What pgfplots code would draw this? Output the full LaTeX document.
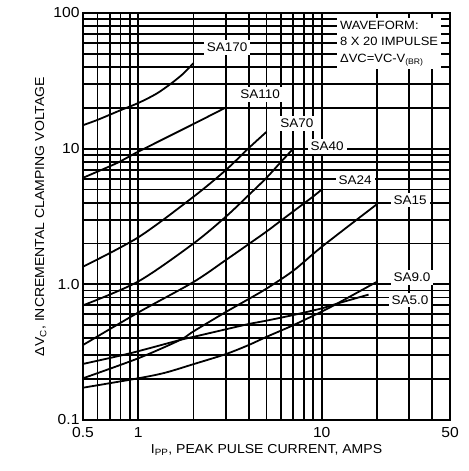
\documentclass[border=0pt]{standalone}
\usepackage{fontspec}
\setmainfont{Liberation Sans}[FakeStretch=1.08]
\usepackage{pgfplots}
\pgfplotsset{compat=1.18}

\begin{document}
\begin{tikzpicture}
\begin{axis}[
  name=ax,
  xmode=log, ymode=log,
  scale only axis,
  width=367pt, height=407pt,
  xmin=0.5, xmax=50, ymin=0.1, ymax=100,
  xtick={0.5,1,10,50}, xticklabels={0.5,1,10,50},
  ytick={0.1,1,10,100}, yticklabels={0.1,1.0,10,100},
  minor xtick={0.6,0.7,0.8,0.9,2,3,4,5,6,7,8,9,20,30,40},
  minor ytick={0.2,0.3,0.4,0.5,0.6,0.7,0.8,0.9,2,3,4,5,6,7,8,9,20,30,40,50,60,70,80,90},
  grid=both,
  major grid style={black, line width=1.9pt},
  minor grid style={black, line width=1.9pt},
  axis line style={line width=2pt},
  major tick length=0pt, minor tick length=0pt,
  tick label style={font=\fontsize{14.5}{16}\selectfont},
  xticklabel style={yshift=-4pt},
  label style={font=\fontsize{13}{15}\selectfont},
  xlabel={I\textsubscript{PP}, PEAK PULSE CURRENT, AMPS},
  ylabel={ΔV\textsubscript{C}, INCREMENTAL CLAMPING VOLTAGE},
  crv/.style={black, solid, mark=none, line width=1.8pt, smooth},
]
% SA170
\addplot[crv] coordinates {(0.5,14.9) (0.6,16.3) (0.8,19.2) (1,21.7) (1.25,25.3) (1.5,30) (1.75,35.5) (2,42.7)};
% SA110
\addplot[crv] coordinates {(0.5,6.1) (0.76,7.8) (1,9.5) (2,15.2) (3,20.1)};
% SA70
\addplot[crv] coordinates {(0.5,1.35) (1,2.22) (2,4.42) (3,6.95) (4,10.1) (5,13.3)};
% SA40
\addplot[crv] coordinates {(0.5,0.7) (1,1.05) (2,2.0) (3,3.15) (4,4.55) (5,6.1) (6,8.0) (7,10)};
% SA24
\addplot[crv] coordinates {(0.5,0.357) (1,0.62) (2,1.04) (3,1.51) (4,1.98) (5,2.45) (6,2.95) (7,3.45) (8,3.95) (9,4.45) (10,5.0)};
% SA15
\addplot[crv] coordinates {(0.5,0.203) (1,0.285) (1.69,0.389) (2,0.45) (3,0.625) (4,0.78) (5,0.93) (7,1.26) (10,1.89) (20,3.9)};
% SA9.0
\addplot[crv] coordinates {(0.5,0.173) (1,0.203) (1.4,0.223) (2,0.258) (3,0.306) (4,0.357) (5,0.41) (7,0.5) (10,0.63) (12.1,0.72) (20,1.045)};
% SA5.0
\addplot[crv] coordinates {(0.5,0.259) (0.9,0.31) (1.69,0.389) (2,0.41) (3,0.466) (4,0.51) (5,0.54) (7,0.594) (10,0.665) (12.1,0.72) (18,0.84)};

% curve names
\tikzset{lbl/.style={fill=white, inner sep=3pt, font=\fontsize{12.5}{14}\selectfont}}
\node[lbl] at (axis cs:3.05,56) {SA170};
\node[lbl] at (axis cs:4.61,25.2) {SA110};
\node[lbl] at (axis cs:7.33,15.4) {SA70};
\node[lbl] at (axis cs:10.7,10.4) {SA40};
\node[lbl] at (axis cs:15.2,5.87) {SA24};
\node[lbl] at (axis cs:30.3,4.18) {SA15};
\node[lbl] at (axis cs:31,1.13) {SA9.0};
\node[lbl] at (axis cs:30.3,0.766) {SA5.0};
\node[fill=white, anchor=north west, align=left, inner sep=3pt,
      font=\fontsize{12}{16.5}\selectfont] at (axis cs:12.1,92)
  {WAVEFORM:\\8 X 20 IMPULSE\\ΔVC=VC-V\textsubscript{(BR)}};
\end{axis}
\pgfresetboundingbox
\path ([shift={(-83pt,-51pt)}]ax.south west) rectangle ([shift={(18pt,13pt)}]ax.north east);
\end{tikzpicture}
\end{document}
